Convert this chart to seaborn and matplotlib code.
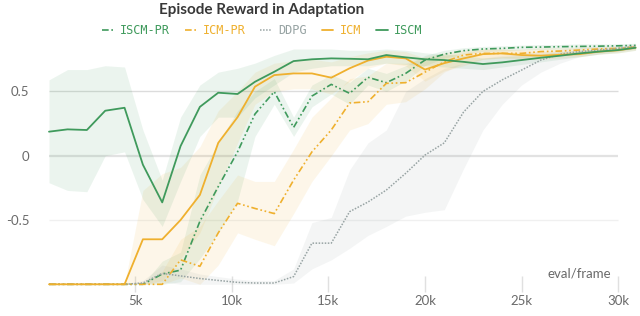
import numpy as np
import pandas as pd
import seaborn as sns
import matplotlib.pyplot as plt

# x positions in thousands of frames
frames = [0.54, 1.5, 2.5, 3.45, 4.45, 5.4, 6.4, 7.35, 8.35, 9.3, 10.3, 11.2, 12.2, 13.2, 14.15, 15.15,
          16.1, 17.05, 18.0, 19.0, 20.0, 21.0, 22.0, 23.0, 24.0, 25.0, 26.0, 27.0, 28.0, 29.0, 30.0, 30.9]

iscm = [0.187, 0.205, 0.20, 0.35, 0.373, -0.07, -0.363, 0.075, 0.38, 0.49, 0.48, 0.575, 0.653, 0.736, 0.75, 0.757,
        0.754, 0.75, 0.783, 0.765, 0.75, 0.744, 0.73, 0.713, 0.726, 0.744, 0.762, 0.778, 0.796, 0.81, 0.822, 0.84]
iscm_lo = [-0.21, -0.27, -0.28, 0.0, 0.03, -0.34, -0.55, -0.2, 0.15, 0.3, 0.3, 0.45, 0.55, 0.65, 0.68, 0.70,
           0.70, 0.70, 0.72, 0.71, 0.70, 0.69, 0.68, 0.67, 0.69, 0.71, 0.73, 0.75, 0.77, 0.79, 0.80, 0.82]
iscm_hi = [0.59, 0.67, 0.67, 0.70, 0.69, 0.20, -0.19, 0.30, 0.55, 0.65, 0.68, 0.72, 0.78, 0.83, 0.83, 0.83,
           0.82, 0.82, 0.83, 0.82, 0.80, 0.79, 0.78, 0.76, 0.77, 0.78, 0.79, 0.81, 0.82, 0.83, 0.84, 0.86]

icm = [-1, -1, -1, -1, -1, -0.65, -0.65, -0.5, -0.305, 0.1, 0.3, 0.537, 0.627, 0.64, 0.64, 0.607,
       0.68, 0.74, 0.77, 0.757, 0.67, 0.72, 0.757, 0.79, 0.796, 0.783, 0.778, 0.785, 0.79, 0.809, 0.82, 0.84]
icm_lo = [-1, -1, -1, -1, -1, -1.0, -0.97, -0.8, -0.6, -0.25, 0.1, 0.4, 0.5, 0.52, 0.52, 0.48,
          0.58, 0.68, 0.72, 0.70, 0.58, 0.66, 0.70, 0.75, 0.76, 0.75, 0.75, 0.76, 0.77, 0.79, 0.80, 0.82]
icm_hi = [-1, -1, -1, -1, -1, -0.27, -0.14, -0.09, 0.07, 0.35, 0.5, 0.65, 0.72, 0.74, 0.75, 0.73,
          0.77, 0.80, 0.82, 0.81, 0.76, 0.78, 0.80, 0.83, 0.83, 0.82, 0.81, 0.81, 0.82, 0.83, 0.84, 0.86]

icm_pr = [-1, -1, -1, -1, -1, -1, -1, -0.81, -0.86, -0.6, -0.37, -0.41, -0.45, -0.19, 0.03, 0.2,
          0.41, 0.42, 0.563, 0.568, 0.65, 0.73, 0.783, 0.796, 0.796, 0.796, 0.81, 0.814, 0.822, 0.83, 0.835, 0.845]
icm_pr_lo = [-1, -1, -1, -1, -1, -1, -1.0, -0.95, -1.0, -0.85, -0.6, -0.65, -0.7, -0.45, -0.2, 0.0,
             0.2, 0.25, 0.4, 0.42, 0.52, 0.65, 0.72, 0.75, 0.76, 0.76, 0.78, 0.79, 0.80, 0.81, 0.82, 0.83]
icm_pr_hi = [-1, -1, -1, -1, -1, -1, -0.9, -0.65, -0.55, -0.35, -0.15, -0.2, -0.2, 0.05, 0.3, 0.45,
             0.6, 0.62, 0.72, 0.72, 0.77, 0.8, 0.82, 0.83, 0.83, 0.83, 0.84, 0.84, 0.845, 0.85, 0.85, 0.86]

iscm_pr = [-1, -1, -1, -1, -1, -1, -0.92, -0.89, -0.51, -0.24, 0.03, 0.324, 0.498, 0.22, 0.464, 0.555,
           0.485, 0.61, 0.568, 0.64, 0.744, 0.79, 0.817, 0.83, 0.835, 0.843, 0.845, 0.848, 0.85, 0.852, 0.855, 0.858]
iscm_pr_lo = [-1, -1, -1, -1, -1, -1, -1.0, -0.98, -0.8, -0.6, -0.35, 0.15, 0.4, 0.15, 0.38, 0.48,
              0.4, 0.55, 0.5, 0.58, 0.7, 0.76, 0.79, 0.81, 0.815, 0.82, 0.825, 0.83, 0.83, 0.835, 0.84, 0.84]
iscm_pr_hi = [-1, -1, -1, -1, -1, -1, -0.82, -0.75, -0.15, 0.1, 0.35, 0.5, 0.6, 0.3, 0.55, 0.63,
              0.57, 0.68, 0.64, 0.7, 0.78, 0.82, 0.84, 0.85, 0.855, 0.86, 0.865, 0.865, 0.87, 0.87, 0.87, 0.875]

ddpg = [-1, -1, -1, -1, -1, -0.99, -0.915, -0.935, -0.955, -0.97, -0.985, -0.99, -0.99, -0.94, -0.68, -0.68,
        -0.435, -0.36, -0.267, -0.137, 0.005, 0.1, 0.34, 0.5, 0.59, 0.666, 0.744, 0.79, 0.81, 0.822, 0.835, 0.85]
ddpg_lo = [-1, -1, -1, -1, -1, -1.0, -0.98, -1.0, -1.0, -1.0, -1.0, -1.0, -1.0, -0.99, -0.88, -0.81,
           -0.72, -0.62, -0.55, -0.47, -0.44, -0.42, -0.1, 0.2, 0.4, 0.55, 0.65, 0.72, 0.77, 0.79, 0.81, 0.83]
ddpg_hi = [-1, -1, -1, -1, -1, -0.97, -0.85, -0.88, -0.92, -0.94, -0.96, -0.97, -0.97, -0.88, -0.52, -0.48,
           -0.11, 0.1, 0.2, 0.5, 0.6, 0.68, 0.72, 0.76, 0.78, 0.8, 0.81, 0.83, 0.84, 0.85, 0.86, 0.87]

x_ticks = [5, 10, 15, 20, 25, 30]
x_tick_labels = ["5k", "10k", "15k", "20k", "25k", "30k"]
y_ticks = [-0.5, 0, 0.5]
y_tick_labels = ["-0.5", "0", "0.5"]

green = "#3f9a5c"
orange = "#efb02e"
grey = "#97a3a3"

# name, mean, lower, upper, colour, dash pattern, line width
series = [
    ("ISCM-PR", iscm_pr, iscm_pr_lo, iscm_pr_hi, green, (4, 1.6, 1, 1.6, 1, 1.6), 1.2),
    ("ICM-PR", icm_pr, icm_pr_lo, icm_pr_hi, orange, (4, 1.6, 1, 1.6, 1, 1.6), 1.2),
    ("DDPG", ddpg, ddpg_lo, ddpg_hi, grey, (1, 1), 1.1),
    ("ICM", icm, icm_lo, icm_hi, orange, "", 1.3),
    ("ISCM", iscm, iscm_lo, iscm_hi, green, "", 1.3),
]

sns.set_theme(style="white")
plt.rcParams["font.family"] = ["Lato", "DejaVu Sans"]

fig = plt.figure(figsize=(6.4, 3.16), dpi=100)
ax = fig.add_axes([49 / 640, 1 - 284.3 / 316, 591 / 640, 244.3 / 316])

for name, mean, lo, hi, col, dash, lw in series:
    ax.fill_between(frames, lo, hi, color=col, alpha=0.1, linewidth=0)

for name, mean, lo, hi, col, dash, lw in series:
    df = pd.DataFrame({"frame": frames, "reward": mean})
    sns.lineplot(data=df, x="frame", y="reward", ax=ax, color=col, linewidth=lw,
                 dashes=False, label=name, clip_on=False)
    line = ax.lines[-1]
    if dash:
        line.set_dashes(dash)

ax.set_xlim(0.54, 31.13)
ax.set_ylim(-1.0, 0.9)

# grid lines stop at 30k
ax.hlines(0.5, 0.54, 30, color="#dcdcdc", linewidth=1, zorder=0)
ax.hlines(0, 0.54, 30, color="#e2e2e2", linewidth=1.6, zorder=0)
ax.hlines(-0.5, 0.54, 30, color="#f0f0f0", linewidth=1, zorder=0)

for s in ax.spines.values():
    s.set_visible(False)

ax.set_xticks(x_ticks)
ax.set_xticklabels(x_tick_labels)
ax.set_yticks(y_ticks)
ax.set_yticklabels(y_tick_labels)
ax.tick_params(axis="x", direction="inout", length=12, width=1, color="#e0e0e0",
               labelsize=9.5, labelcolor="#6a6a6a", pad=2, bottom=True)
ax.tick_params(axis="y", length=0, labelsize=9.5, labelcolor="#6a6a6a", pad=14)
ax.set_xlabel("")
ax.set_ylabel("")

ax.text(0.951, 0.02, "eval/frame", transform=ax.transAxes, ha="right", va="bottom",
        fontsize=9.5, color="#6a6a6a")

fig.text(262 / 640, 1 - 10 / 316, "Episode Reward in Adaptation", ha="center", va="center",
         fontsize=11, fontweight="bold", color="#383838")

handles, labels = ax.get_legend_handles_labels()
ax.get_legend().remove()
leg = fig.legend(handles, labels, loc="center", bbox_to_anchor=(262 / 640, 1 - 31 / 316), ncol=5,
                 frameon=False, handlelength=1.0, handletextpad=0.5, columnspacing=1.25,
                 labelcolor="linecolor", prop={"family": "DejaVu Sans Mono", "size": 8.6})

fig.savefig("out.png", dpi=100)
